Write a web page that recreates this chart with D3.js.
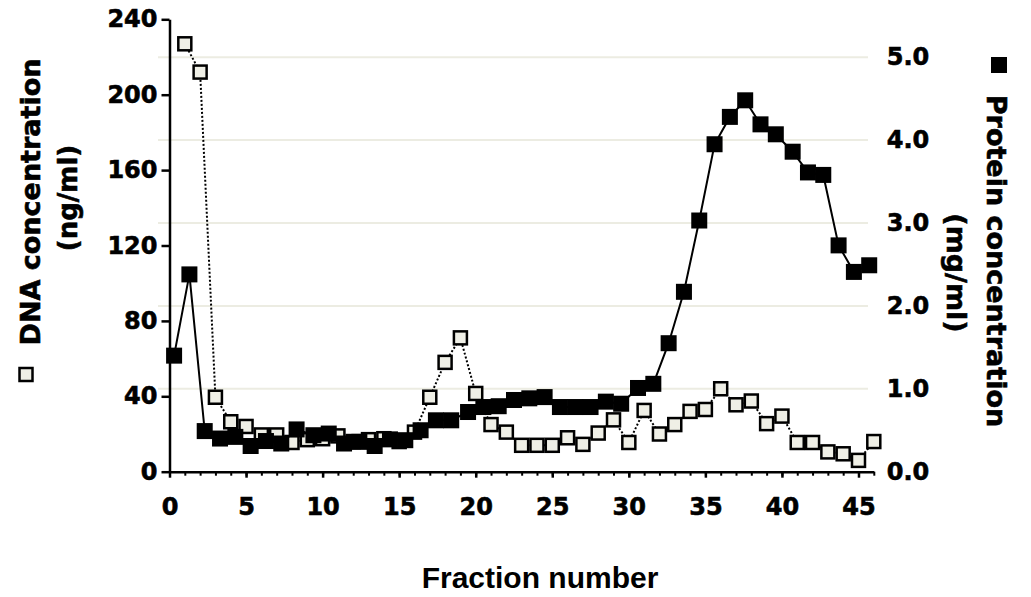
<!DOCTYPE html>
<html>
<head>
<meta charset="utf-8">
<script src="https://cdn.jsdelivr.net/npm/d3@7"></script>
<style>
  html, body { margin: 0; padding: 0; background: #ffffff; }
  svg { display: block; }
  .tick text { font-family: "DejaVu Sans", Verdana, sans-serif; font-weight: bold; font-size: 24px; fill: #000; stroke: #000; stroke-width: 0.6px; }
  .title { stroke: #000; stroke-width: 0.6px; }
</style>
</head>
<body>
<svg id="chart" width="1031" height="597"></svg>
<script>
// DNA concentration (ng/ml) per fraction, left axis
const dnaFraction = [1, 2, 3, 4, 5, 6, 7, 8, 9, 10, 11, 12, 13, 14, 15, 16, 17, 18, 19, 20,
  21, 22, 23, 24, 25, 26, 27, 28, 29, 30, 31, 32, 33, 34, 35, 36, 37, 38, 39, 40,
  41, 42, 43, 44, 45, 46];
const dnaValues = [227, 212, 39.5, 26.5, 24, 19.5, 19.5, 15.5, 17, 17.5, 19, 16, 17, 17.5, 16, 21,
  39.5, 58, 71, 41.5, 25, 21, 14, 14, 14, 18, 14.5, 20.5, 27.5, 15.5,
  32.5, 20, 25, 32, 33, 44, 35.5, 37.5, 25.5, 29.5, 15.5, 15.5, 10.5, 9.5, 6, 16];

// Protein concentration (mg/ml), right axis
const proteinFraction = [0.3, 1.3, 2.3, 3.3, 4.3, 5.3, 6.3, 7.3, 8.3, 9.4, 10.4, 11.4, 12.4, 13.4, 14.4,
  15.4, 16.4, 17.4, 18.4, 19.5, 20.5, 21.5, 22.5, 23.5, 24.5, 25.5, 26.5, 27.5, 28.5, 29.5,
  30.6, 31.6, 32.6, 33.6, 34.6, 35.6, 36.6, 37.6, 38.6, 39.6, 40.7, 41.7, 42.7, 43.7, 44.7, 45.7];
const proteinValues = [1.40, 2.38, 0.49, 0.40, 0.42, 0.31, 0.37, 0.34, 0.51, 0.44, 0.46, 0.34, 0.36, 0.31,
  0.39, 0.38, 0.50, 0.62, 0.62, 0.72, 0.78, 0.79, 0.865, 0.885, 0.90, 0.78, 0.78, 0.78, 0.845, 0.82,
  1.01, 1.06, 1.55, 2.17, 3.03, 3.95, 4.28, 4.48, 4.19, 4.07, 3.86, 3.61, 3.58, 2.73, 2.41, 2.49];

// Axis ticks
const xMajorTicks = [0, 5, 10, 15, 20, 25, 30, 35, 40, 45];
const xMinorTicks = d3.range(0, 47);
const leftTicks = [0, 40, 80, 120, 160, 200, 240];
const rightTicks = [0, 1, 2, 3, 4, 5];

const svg = d3.select("#chart");
const x = d3.scaleLinear().domain([0, 46]).range([169.5, 873.8]);
const yL = d3.scaleLinear().domain([0, 240]).range([471.7, 19.3]);
const yR = d3.scaleLinear().domain([0, 5]).range([471.7, 57.2]);

const dna = dnaFraction.map((f, i) => ({ f, v: dnaValues[i] }));
const protein = proteinFraction.map((f, i) => ({ f, v: proteinValues[i] }));

// Horizontal grid on the protein scale
svg.append("g").selectAll("line")
  .data(rightTicks.filter(d => d > 0))
  .join("line")
  .attr("x1", 158).attr("x2", 868)
  .attr("y1", d => yR(d)).attr("y2", d => yR(d))
  .attr("stroke", "#ecece2").attr("stroke-width", 2);

// DNA trace: dotted line with light open squares
svg.append("path")
  .datum(dna)
  .attr("fill", "none")
  .attr("stroke", "#000")
  .attr("stroke-width", 2)
  .attr("stroke-dasharray", "2,2")
  .attr("d", d3.line().x(d => x(d.f)).y(d => yL(d.v)));

const openSize = 13;
svg.append("g").selectAll("rect")
  .data(dna)
  .join("rect")
  .attr("x", d => x(d.f) - openSize / 2)
  .attr("y", d => yL(d.v) - openSize / 2)
  .attr("width", openSize).attr("height", openSize)
  .attr("fill", "#efefe6").attr("stroke", "#000").attr("stroke-width", 2.5);

// Protein trace: solid line with filled squares
svg.append("path")
  .datum(protein)
  .attr("fill", "none")
  .attr("stroke", "#000")
  .attr("stroke-width", 2)
  .attr("d", d3.line().x(d => x(d.f)).y(d => yR(d.v)));

const solidSize = 16;
svg.append("g").selectAll("rect")
  .data(protein)
  .join("rect")
  .attr("x", d => x(d.f) - solidSize / 2)
  .attr("y", d => yR(d.v) - solidSize / 2)
  .attr("width", solidSize).attr("height", solidSize)
  .attr("fill", "#000");

// X axis: minor ticks every fraction, labelled major ticks every five
const xMinor = svg.append("g").attr("transform", `translate(0,${yL(0)})`)
  .call(d3.axisBottom(x).tickValues(xMinorTicks).tickSize(4).tickFormat(""));
xMinor.select(".domain").remove();
xMinor.selectAll(".tick line").attr("stroke-width", 2);

const xAxis = svg.append("g").attr("transform", `translate(0,${yL(0)})`)
  .call(d3.axisBottom(x).tickValues(xMajorTicks).tickSize(6).tickPadding(20).tickSizeOuter(0));
xAxis.select(".domain").attr("stroke-width", 2.5);
xAxis.selectAll(".tick line").attr("stroke-width", 2.5);

// Left axis (DNA)
const yAxisL = svg.append("g").attr("transform", `translate(${x(0)},0)`)
  .call(d3.axisLeft(yL).tickValues(leftTicks).tickSize(8).tickPadding(4).tickSizeOuter(0));
yAxisL.select(".domain").attr("stroke-width", 2.5);
yAxisL.selectAll(".tick line").attr("stroke-width", 2.5);

// Right axis (protein): labels only
const yAxisR = svg.append("g").attr("transform", `translate(${x(46)},0)`)
  .call(d3.axisRight(yR).tickValues(rightTicks).tickFormat(d3.format(".1f")).tickSize(0).tickPadding(13));
yAxisR.select(".domain").remove();

// Axis titles
const titleFont = '"DejaVu Sans", Verdana, sans-serif';

svg.append("text").attr("class", "title")
  .attr("transform", "translate(40,202) rotate(-90)")
  .attr("text-anchor", "middle")
  .attr("font-family", titleFont).attr("font-weight", "bold").attr("font-size", 27)
  .text("DNA concentration");
svg.append("text").attr("class", "title")
  .attr("transform", "translate(77,198) rotate(-90)")
  .attr("text-anchor", "middle")
  .attr("font-family", titleFont).attr("font-weight", "bold").attr("font-size", 26)
  .text("(ng/ml)");
svg.append("rect")
  .attr("x", 19.5).attr("y", 368).attr("width", 13).attr("height", 13)
  .attr("fill", "#efefe6").attr("stroke", "#000").attr("stroke-width", 2.5);

svg.append("text").attr("class", "title")
  .attr("transform", "translate(987,261) rotate(90)")
  .attr("text-anchor", "middle")
  .attr("font-family", titleFont).attr("font-weight", "bold").attr("font-size", 27)
  .text("Protein concentration");
svg.append("text").attr("class", "title")
  .attr("transform", "translate(947,273) rotate(90)")
  .attr("text-anchor", "middle")
  .attr("font-family", titleFont).attr("font-weight", "bold").attr("font-size", 27)
  .text("(mg/ml)");
svg.append("rect")
  .attr("x", 991).attr("y", 57).attr("width", 16).attr("height", 16)
  .attr("fill", "#000");

svg.append("text")
  .attr("x", 540).attr("y", 588)
  .attr("text-anchor", "middle")
  .attr("font-family", '"Liberation Sans", Arial, sans-serif').attr("font-weight", "bold").attr("font-size", 30)
  .text("Fraction number");
</script>
</body>
</html>
